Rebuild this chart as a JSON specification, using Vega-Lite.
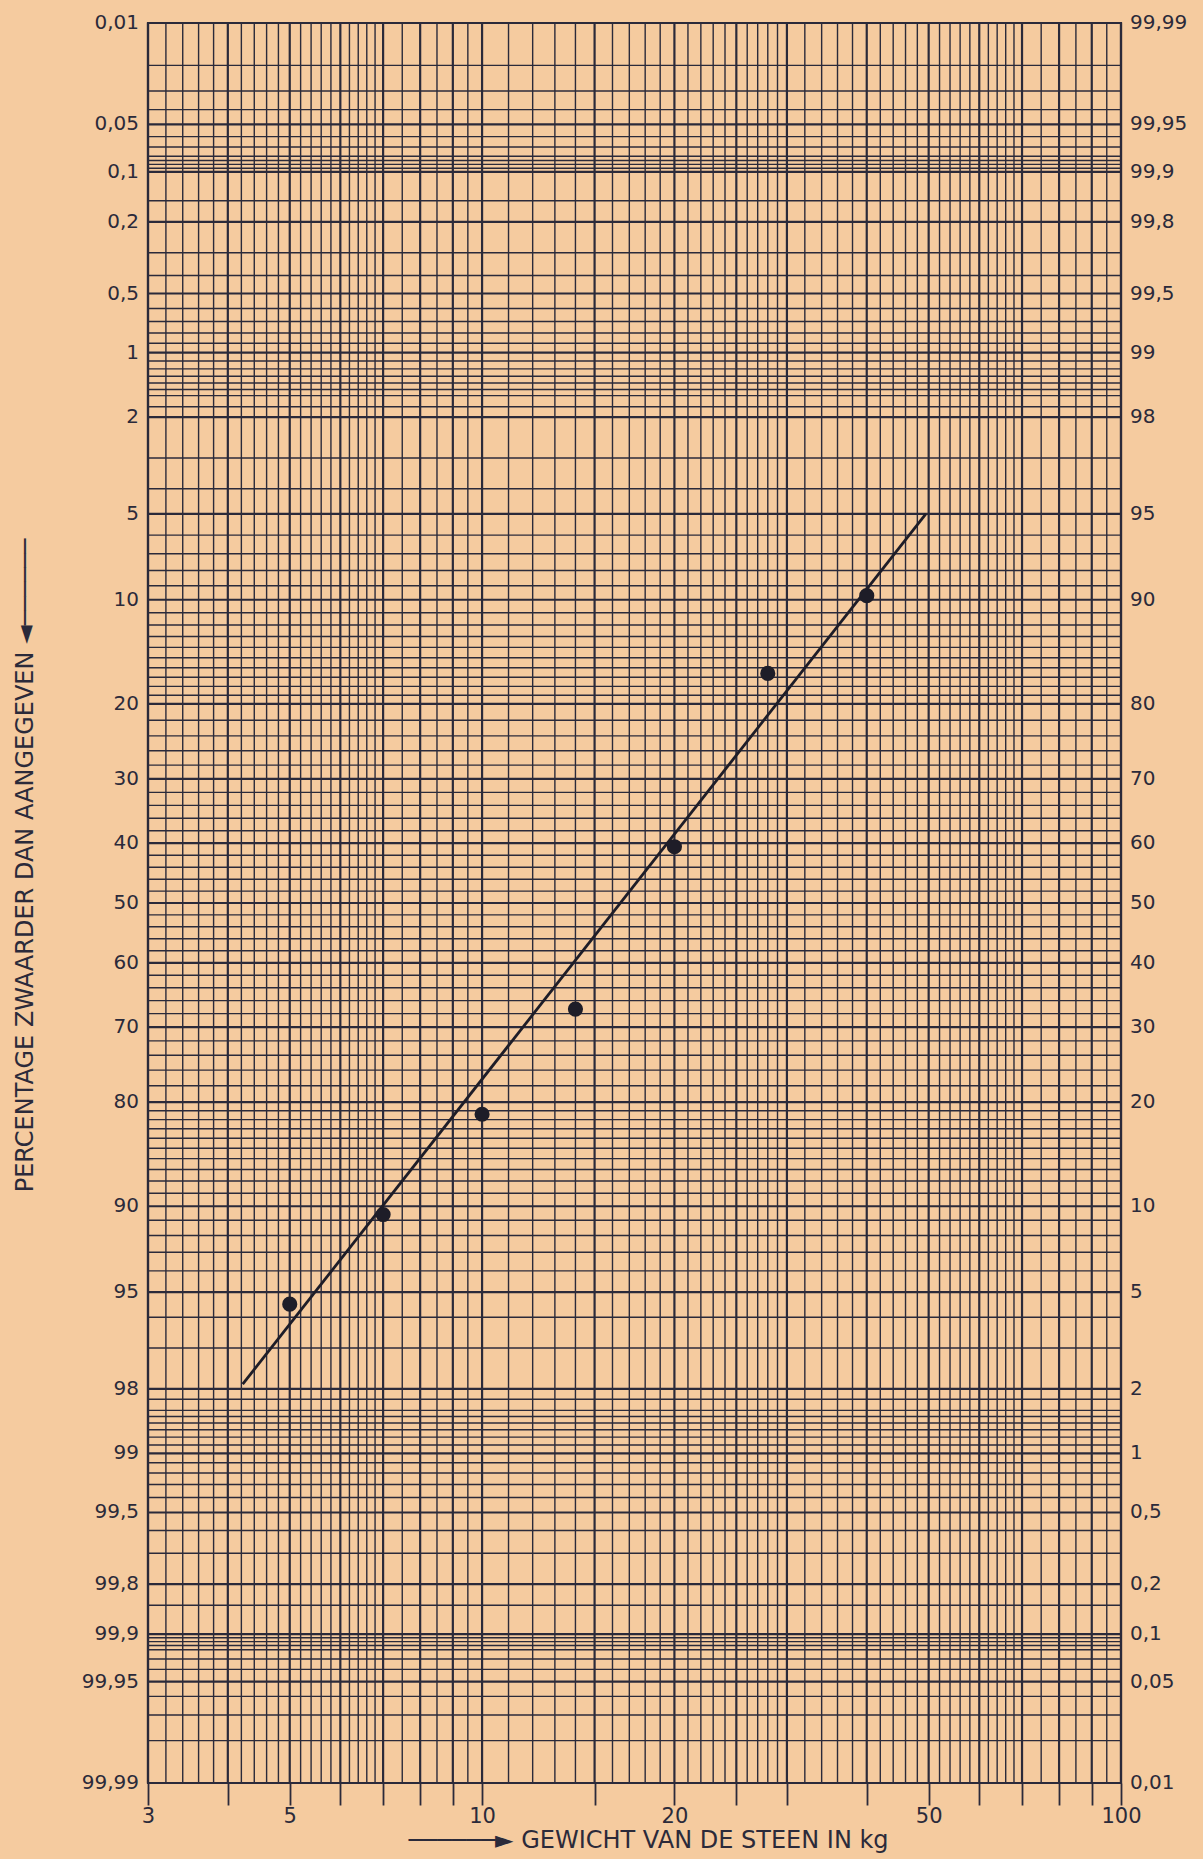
{
  "$schema": "https://vega.github.io/schema/vega-lite/v6.json",
  "width": 973,
  "height": 1760,
  "autosize": {"type": "none"},
  "padding": {"left": 148, "top": 23, "right": 82, "bottom": 76},
  "background": "#f5cb9f",
  "config": {"view": {"stroke": "#2b2a3a", "strokeWidth": 2.2}, "font": "DejaVu Sans"},
  "datasets": {
    "vgrid": [
      {"x": 3}, {"x": 3.2}, {"x": 3.4}, {"x": 3.6}, {"x": 3.8}, {"x": 4}, {"x": 4.2}, {"x": 4.4}, {"x": 4.6}, {"x": 4.8},
      {"x": 5}, {"x": 5.2}, {"x": 5.4}, {"x": 5.6}, {"x": 5.8}, {"x": 6}, {"x": 6.2}, {"x": 6.4}, {"x": 6.6}, {"x": 6.8},
      {"x": 7}, {"x": 7.5}, {"x": 8}, {"x": 8.5}, {"x": 9}, {"x": 9.5}, {"x": 10}, {"x": 11}, {"x": 12}, {"x": 13},
      {"x": 14}, {"x": 15}, {"x": 16}, {"x": 17}, {"x": 18}, {"x": 19}, {"x": 20}, {"x": 21}, {"x": 22}, {"x": 23},
      {"x": 24}, {"x": 25}, {"x": 26}, {"x": 27}, {"x": 28}, {"x": 29}, {"x": 30}, {"x": 32}, {"x": 34}, {"x": 36},
      {"x": 38}, {"x": 40}, {"x": 42}, {"x": 44}, {"x": 46}, {"x": 48}, {"x": 50}, {"x": 52}, {"x": 54}, {"x": 56},
      {"x": 58}, {"x": 60}, {"x": 62}, {"x": 64}, {"x": 66}, {"x": 68}, {"x": 70}, {"x": 75}, {"x": 80}, {"x": 85},
      {"x": 90}, {"x": 95}, {"x": 100}
    ],
    "hgrid": [
      {"p": 0.01}, {"p": 0.02}, {"p": 0.03}, {"p": 0.04}, {"p": 0.05}, {"p": 0.06}, {"p": 0.07}, {"p": 0.08}, {"p": 0.085}, {"p": 0.09},
      {"p": 0.095}, {"p": 0.1}, {"p": 0.15}, {"p": 0.2}, {"p": 0.3}, {"p": 0.4}, {"p": 0.5}, {"p": 0.6}, {"p": 0.7}, {"p": 0.8},
      {"p": 0.9}, {"p": 1}, {"p": 1.1}, {"p": 1.2}, {"p": 1.3}, {"p": 1.4}, {"p": 1.5}, {"p": 1.6}, {"p": 1.8}, {"p": 2},
      {"p": 3}, {"p": 4}, {"p": 5}, {"p": 6}, {"p": 7}, {"p": 8}, {"p": 9}, {"p": 10}, {"p": 11}, {"p": 12},
      {"p": 13}, {"p": 14}, {"p": 15}, {"p": 16}, {"p": 17}, {"p": 18}, {"p": 19}, {"p": 20}, {"p": 22}, {"p": 24},
      {"p": 26}, {"p": 28}, {"p": 30}, {"p": 32}, {"p": 34}, {"p": 36}, {"p": 38}, {"p": 40}, {"p": 42}, {"p": 44},
      {"p": 46}, {"p": 48}, {"p": 50}, {"p": 52}, {"p": 54}, {"p": 56}, {"p": 58}, {"p": 60}, {"p": 62}, {"p": 64},
      {"p": 66}, {"p": 68}, {"p": 70}, {"p": 72}, {"p": 74}, {"p": 76}, {"p": 78}, {"p": 80}, {"p": 81}, {"p": 82},
      {"p": 83}, {"p": 84}, {"p": 85}, {"p": 86}, {"p": 87}, {"p": 88}, {"p": 89}, {"p": 90}, {"p": 91}, {"p": 92},
      {"p": 93}, {"p": 94}, {"p": 95}, {"p": 96}, {"p": 97}, {"p": 98}, {"p": 98.2}, {"p": 98.4}, {"p": 98.5}, {"p": 98.6},
      {"p": 98.7}, {"p": 98.8}, {"p": 98.9}, {"p": 99}, {"p": 99.1}, {"p": 99.2}, {"p": 99.3}, {"p": 99.4}, {"p": 99.5}, {"p": 99.6},
      {"p": 99.7}, {"p": 99.8}, {"p": 99.85}, {"p": 99.9}, {"p": 99.905}, {"p": 99.91}, {"p": 99.915}, {"p": 99.92}, {"p": 99.93}, {"p": 99.94},
      {"p": 99.95}, {"p": 99.96}, {"p": 99.97}, {"p": 99.98}, {"p": 99.99}
    ],
    "labels": [
      {"p": 0.01, "l": "0,01", "r": "99,99"},
      {"p": 0.05, "l": "0,05", "r": "99,95"},
      {"p": 0.1, "l": "0,1", "r": "99,9"},
      {"p": 0.2, "l": "0,2", "r": "99,8"},
      {"p": 0.5, "l": "0,5", "r": "99,5"},
      {"p": 1, "l": "1", "r": "99"},
      {"p": 2, "l": "2", "r": "98"},
      {"p": 5, "l": "5", "r": "95"},
      {"p": 10, "l": "10", "r": "90"},
      {"p": 20, "l": "20", "r": "80"},
      {"p": 30, "l": "30", "r": "70"},
      {"p": 40, "l": "40", "r": "60"},
      {"p": 50, "l": "50", "r": "50"},
      {"p": 60, "l": "60", "r": "40"},
      {"p": 70, "l": "70", "r": "30"},
      {"p": 80, "l": "80", "r": "20"},
      {"p": 90, "l": "90", "r": "10"},
      {"p": 95, "l": "95", "r": "5"},
      {"p": 98, "l": "98", "r": "2"},
      {"p": 99, "l": "99", "r": "1"},
      {"p": 99.5, "l": "99,5", "r": "0,5"},
      {"p": 99.8, "l": "99,8", "r": "0,2"},
      {"p": 99.9, "l": "99,9", "r": "0,1"},
      {"p": 99.95, "l": "99,95", "r": "0,05"},
      {"p": 99.99, "l": "99,99", "r": "0,01"}
    ],
    "points": [
      {"w": 5, "p": 95.5},
      {"w": 7, "p": 90.6},
      {"w": 10, "p": 81.4},
      {"w": 14, "p": 67.3},
      {"w": 20, "p": 40.6},
      {"w": 28, "p": 16.6},
      {"w": 40, "p": 9.7}
    ],
    "fit": [
      {"w": 4.22, "p": 97.9},
      {"w": 49.5, "p": 5}
    ]
  },
  "layer": [
    {
      "data": {"name": "vgrid"},
      "mark": {"type": "rule", "color": "#2b2a3a"},
      "encoding": {
        "x": {
          "field": "x", "type": "quantitative",
          "scale": {"type": "log", "domain": [3, 100], "nice": false, "zero": false},
          "axis": {
            "values": [3, 4, 5, 6, 7, 8, 9, 10, 15, 20, 25, 30, 40, 50, 60, 70, 80, 90, 100],
            "labelExpr": "indexof([3, 5, 10, 20, 50, 100], datum.value) >= 0 ? format(datum.value, 'd') : ''",
            "grid": false, "domain": false,
            "tickSize": 22, "tickWidth": 1.8, "tickColor": "#2b2a3a",
            "labelFontSize": 21, "labelColor": "#2b2a3a", "labelPadding": 0,
            "labelFlush": false, "labelOverlap": false, "labelFont": "DejaVu Sans",
            "title": "──────► GEWICHT VAN DE STEEN IN kg",
            "titleFontSize": 24, "titleFontWeight": "normal", "titleColor": "#2b2a3a",
            "titleFont": "DejaVu Sans", "titlePadding": 2, "titleX": 500
          }
        },
        "strokeWidth": {
          "condition": {"test": "indexof([3, 4, 5, 6, 7, 8, 9, 10, 15, 20, 25, 30, 40, 50, 60, 70, 80, 90, 100], datum.x) >= 0", "value": 2.2},
          "value": 1.4
        }
      }
    },
    {
      "data": {"name": "hgrid"},
      "transform": [{"calculate": "quantileNormal(datum.p / 100)", "as": "z"}],
      "mark": {"type": "rule", "color": "#2b2a3a"},
      "encoding": {
        "y": {
          "field": "z", "type": "quantitative",
          "scale": {"domain": [-3.719, 3.719], "reverse": true, "nice": false, "zero": false},
          "axis": {
            "labels": false, "ticks": false, "domain": false, "grid": false,
            "title": "PERCENTAGE ZWAARDER DAN AANGEGEVEN ◄──────",
            "titleFontSize": 24, "titleFontWeight": "normal", "titleColor": "#2b2a3a",
            "titleFont": "DejaVu Sans", "titlePadding": 111, "titleY": 842
          }
        },
        "strokeWidth": {
          "condition": {"test": "indexof([0.01, 0.05, 0.1, 0.2, 0.5, 1, 2, 5, 10, 20, 30, 40, 50, 60, 70, 80, 90, 95, 98, 99, 99.5, 99.8, 99.9, 99.95, 99.99], datum.p) >= 0", "value": 2.2},
          "value": 1.4
        }
      }
    },
    {
      "data": {"name": "labels"},
      "transform": [{"calculate": "quantileNormal(datum.p / 100)", "as": "z"}],
      "mark": {"type": "text", "align": "right", "baseline": "middle", "dx": -9, "fontSize": 20, "color": "#2b2a3a", "font": "DejaVu Sans"},
      "encoding": {
        "x": {"datum": 3, "type": "quantitative", "scale": {"type": "log", "domain": [3, 100], "nice": false, "zero": false}},
        "y": {"field": "z", "type": "quantitative", "scale": {"domain": [-3.719, 3.719], "reverse": true, "nice": false, "zero": false}},
        "text": {"field": "l"}
      }
    },
    {
      "data": {"name": "labels"},
      "transform": [{"calculate": "quantileNormal(datum.p / 100)", "as": "z"}],
      "mark": {"type": "text", "align": "left", "baseline": "middle", "dx": 9, "fontSize": 20, "color": "#2b2a3a", "font": "DejaVu Sans"},
      "encoding": {
        "x": {"datum": 100, "type": "quantitative", "scale": {"type": "log", "domain": [3, 100], "nice": false, "zero": false}},
        "y": {"field": "z", "type": "quantitative", "scale": {"domain": [-3.719, 3.719], "reverse": true, "nice": false, "zero": false}},
        "text": {"field": "r"}
      }
    },
    {
      "data": {"name": "fit"},
      "transform": [{"calculate": "quantileNormal(datum.p / 100)", "as": "z"}],
      "mark": {"type": "line", "strokeWidth": 2.8, "color": "#1e1d28"},
      "encoding": {
        "x": {"field": "w", "type": "quantitative", "scale": {"type": "log", "domain": [3, 100], "nice": false, "zero": false}},
        "y": {"field": "z", "type": "quantitative", "scale": {"domain": [-3.719, 3.719], "reverse": true, "nice": false, "zero": false}}
      }
    },
    {
      "data": {"name": "points"},
      "transform": [{"calculate": "quantileNormal(datum.p / 100)", "as": "z"}],
      "mark": {"type": "circle", "size": 230, "color": "#1e1d28", "opacity": 1},
      "encoding": {
        "x": {"field": "w", "type": "quantitative", "scale": {"type": "log", "domain": [3, 100], "nice": false, "zero": false}},
        "y": {"field": "z", "type": "quantitative", "scale": {"domain": [-3.719, 3.719], "reverse": true, "nice": false, "zero": false}}
      }
    }
  ]
}
